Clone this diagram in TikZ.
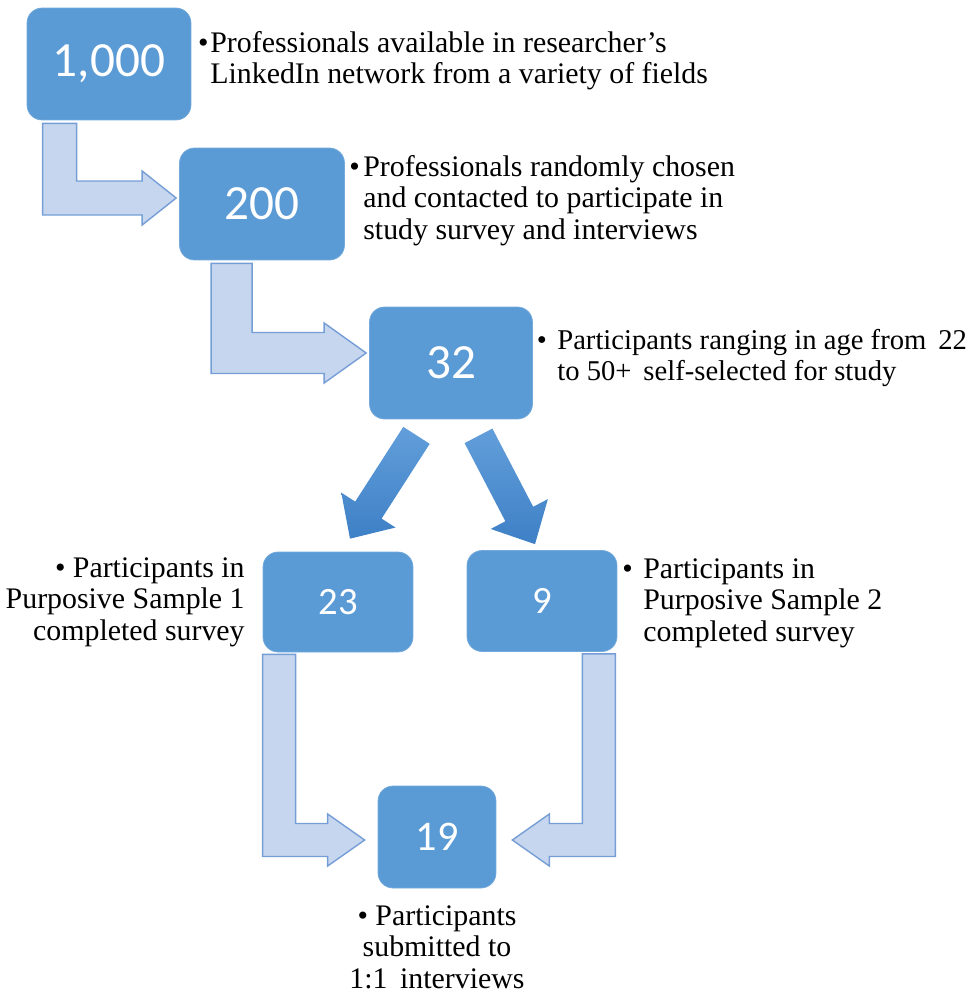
\documentclass[tikz,border=0pt]{standalone}
\usepackage{fontspec}
\setmainfont{Liberation Serif}
\newfontfamily\notefont{Liberation Serif}
\newfontfamily\numfont{Carlito}
\usetikzlibrary{calc}
\definecolor{boxblue}{RGB}{91,155,213}
\definecolor{bentfill}{RGB}{198,214,238}
\definecolor{bentline}{RGB}{118,158,214}
\definecolor{diagtop}{RGB}{98,158,218}
\definecolor{diagbot}{RGB}{62,128,198}
\tikzset{
  numbox/.style={draw=boxblue!85!white, fill=boxblue, rounded corners=0.3cm, text=white,
    font={\numfont\fontsize{28}{28}\selectfont}, inner sep=0pt},
  smallnum/.style={numbox, font={\numfont\fontsize{22}{22}\selectfont}},
  bentblock/.style={draw=bentline, fill=bentfill, line width=0.8pt},
  diagblock/.style={top color=diagtop, bottom color=diagbot, draw=none},
  note/.style={inner sep=0pt, font={\notefont\fontsize{17}{17.9}\selectfont}},
}
% #1 start of shaft, #2 tip, #3 shaft width, #4 half head width, #5 head length, #6 side (1 right, -1 left)
\newcommand{\bentarrow}[6]{\draw[bentblock] (#1) -- ++(#6*#3,0) |- ($(#2)+(-#6*#5,-#3/2)$) -- ++(0,-#4+#3/2) -- (#2) -- ++(-#6*#5,#4) -- ++(0,-#4+#3/2) -| (#1) -- cycle;}
% #1 tail centre, #2 tip
\newcommand{\diagarrow}[2]{
  \coordinate (#1h) at ($(#2)!0.68cm!(#1)$);
  \path[diagblock] ($(#1)!0.314cm!90:(#2)$) -- ($(#1h)!0.314cm!-90:(#1)$) -- ($(#1h)!0.645cm!-90:(#1)$) -- (#2)
    -- ($(#1h)!0.645cm!90:(#1)$) -- ($(#1h)!0.314cm!90:(#1)$) -- ($(#1)!0.314cm!-90:(#2)$) -- cycle;}

\begin{document}
\begin{tikzpicture}[x=0.02cm, y=-0.02cm]
    \useasboundingbox (0,0) rectangle (970,992);

    % boxes
    \node[numbox, minimum width=3.28cm, minimum height=2.24cm] (n1000) at (109,64) {1,000};
    \node[numbox, minimum width=3.3cm, minimum height=2.24cm] (n200) at (262,204) {200};
    \node[numbox, minimum width=3.26cm, minimum height=2.24cm] (n32) at (451,363) {32};
    \node[smallnum, minimum width=3cm, minimum height=2cm] (n23) at (338,602) {23};
    \node[smallnum, minimum width=3cm, minimum height=2.02cm] (n9) at (542,601) {9};
    \node[smallnum, minimum width=2.36cm, minimum height=2.04cm, font={\numfont\fontsize{24}{24}\selectfont}] (n19) at (437,837) {19};

    % bent arrows
    \coordinate (a1s) at ($(n1000.south west)+(16,3)$);
    \coordinate (a1t) at ($(n200.west)+(-3,-6)$);
    \coordinate (a2s) at ($(n200.south west)+(32,3)$);
    \coordinate (a2t) at ($(n32.west)+(-3,-10)$);
    \coordinate (a3s) at ($(n23.south west)+(0,2)$);
    \coordinate (a3t) at ($(n19.west)+(-13,3)$);
    \coordinate (a4s) at ($(n9.south east)+(-2,2)$);
    \coordinate (a4t) at ($(n19.east)+(16,3)$);
    \bentarrow{a1s}{a1t}{34}{27}{34}{1}
    \bentarrow{a2s}{a2t}{41}{30}{42}{1}
    \bentarrow{a3s}{a3t}{33}{26}{37}{1}
    \bentarrow{a4s}{a4t}{33}{26}{37}{-1}

    % split arrows
    \coordinate (d1s) at ($(n32.south)+(-34.5,16)$);
    \coordinate (d1t) at ($(n23.north)+(12,-13)$);
    \coordinate (d2s) at ($(n32.south)+(27.5,16.5)$);
    \coordinate (d2t) at ($(n9.north)+(-7,-6)$);
    \diagarrow{d1s}{d1t}
    \diagarrow{d2s}{d2t}

    % notes
    \node[note, anchor=north west, align=left] (t1000) at (210,31)
        {\llap{\textbullet\hspace{1pt}}Professionals available in researcher’s\\LinkedIn network from a variety of fields};
    \node[note, anchor=north west, align=left] (t200) at (363,155)
        {\llap{\textbullet\hspace{2pt}}Professionals randomly chosen\\and contacted to participate in\\study survey and interviews};
    \node[note, anchor=north west, align=left, font={\notefont\fontsize{16.3}{17.9}\selectfont}] (t32) at (557,329)
        {\llap{\textbullet\hspace{6pt}}Participants ranging in age from \,22\\to 50+ \,self-selected for study};
    \node[note, anchor=north east, align=right] (t23) at (245,557)
        {\textbullet{} Participants in\\Purposive Sample 1\\completed survey};
    \node[note, anchor=north west, align=left] (t9) at (643,558)
        {\llap{\textbullet\hspace{6pt}}Participants in\\Purposive Sample 2\\completed survey};
    \node[note, anchor=north, align=center] (t19) at (437,905)
        {\textbullet{} Participants\\submitted to\\1:1 \,interviews};
\end{tikzpicture}
\end{document}
